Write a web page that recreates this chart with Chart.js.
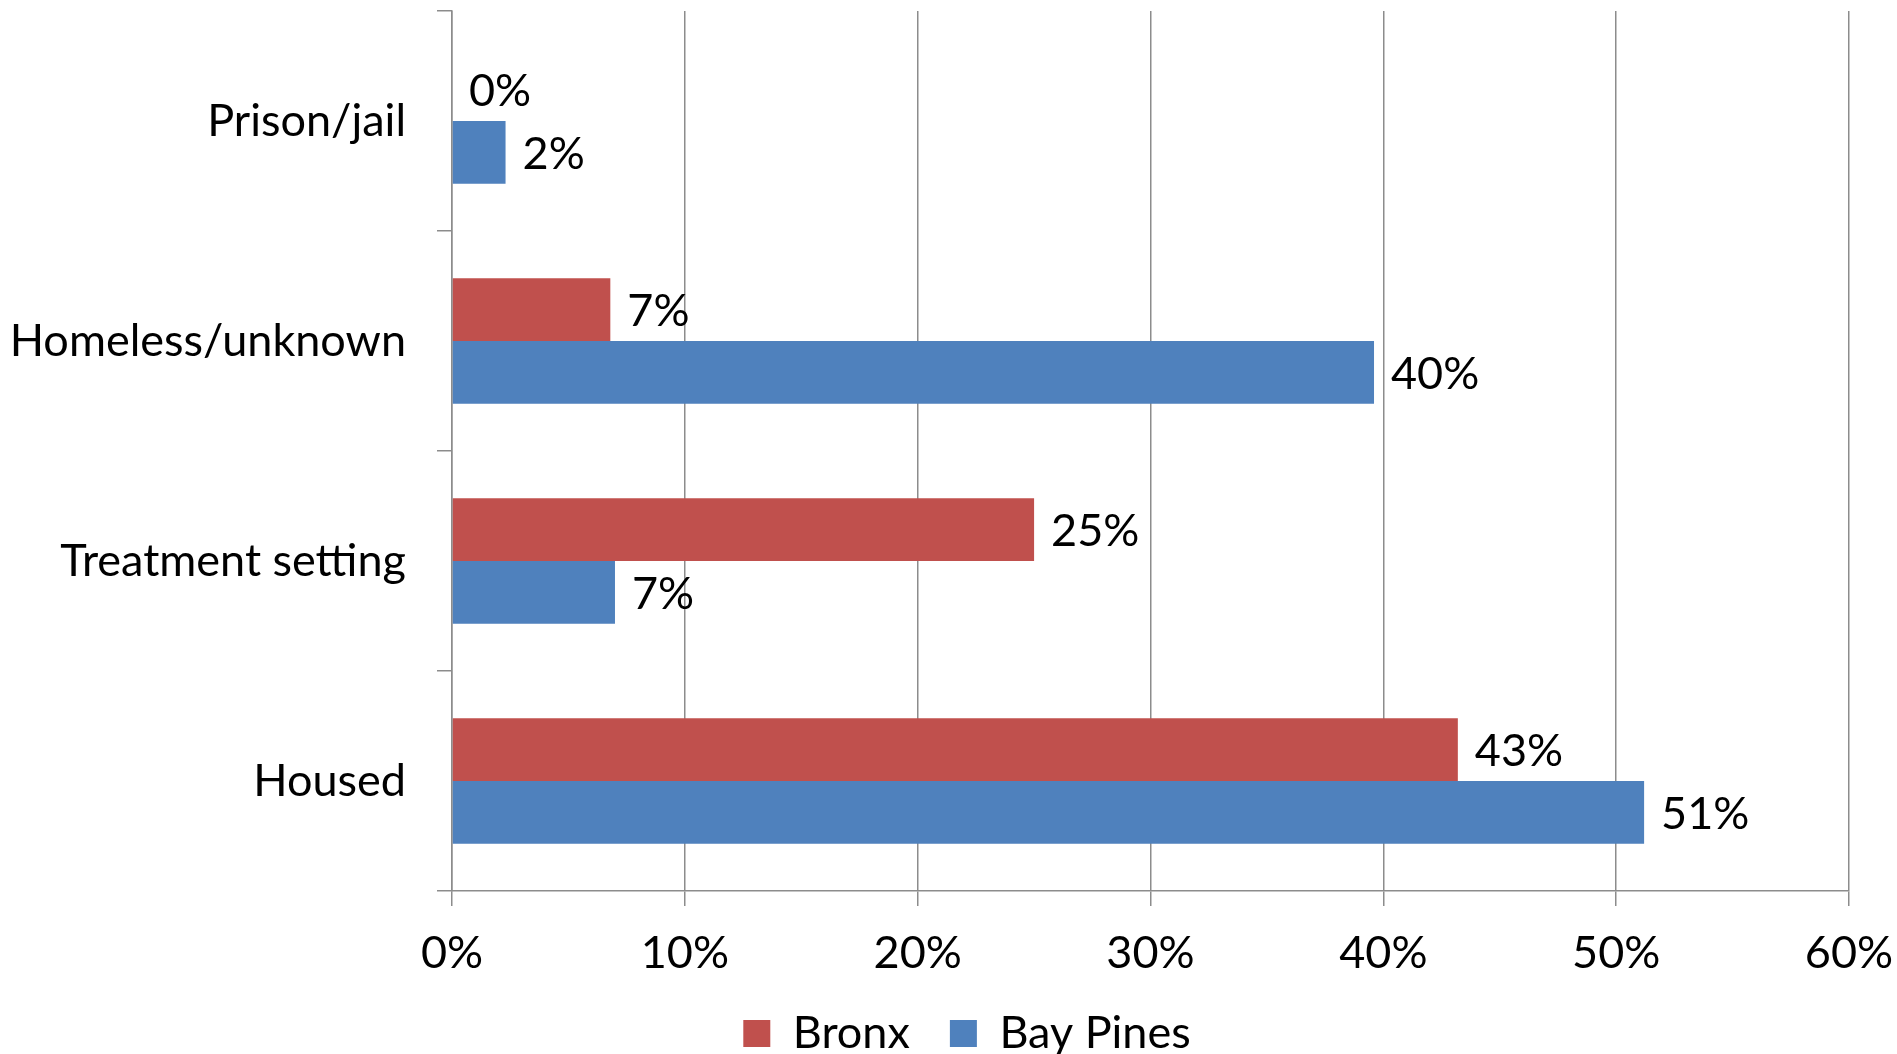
<!DOCTYPE html>
<html>
<head>
<meta charset="utf-8">
<script src="https://cdn.jsdelivr.net/npm/chart.js@4.4.1/dist/chart.umd.min.js"></script>
<style>
  html, body { margin: 0; padding: 0; background: #fff; }
  canvas { display: block; }
</style>
</head>
<body>
<canvas id="chart" width="1897" height="1054"></canvas>
<script>
const categories = ["Prison/jail", "Homeless/unknown", "Treatment setting", "Housed"];
const bronx = [0, 6.8, 25.0, 43.2];
const bayPines = [2.3, 39.6, 7.0, 51.2];
const xTicks = [0, 10, 20, 30, 40, 50, 60];

const FONT = "Lato, 'Open Sans', sans-serif";
const GRID = "#8c8c8c";

// value labels at the end of each bar
const barLabels = {
  id: "barLabels",
  afterDatasetsDraw(chart) {
    const ctx = chart.ctx;
    ctx.save();
    ctx.font = "45px " + FONT;
    ctx.fillStyle = "#000";
    ctx.textAlign = "left";
    ctx.textBaseline = "middle";
    chart.data.datasets.forEach((ds, i) => {
      const meta = chart.getDatasetMeta(i);
      meta.data.forEach((bar, j) => {
        ctx.fillText(Math.round(ds.data[j]) + "%", bar.x + 17, bar.y + 2);
      });
    });
    ctx.restore();
  }
};

new Chart(document.getElementById("chart"), {
  type: "bar",
  data: {
    labels: categories,
    datasets: [
      { label: "Bronx", data: bronx, backgroundColor: "#C0504D" },
      { label: "Bay Pines", data: bayPines, backgroundColor: "#4F81BD" }
    ]
  },
  options: {
    indexAxis: "y",
    responsive: false,
    animation: false,
    categoryPercentage: 0.57,
    barPercentage: 1.0,
    // negative right padding only shifts the centred legend to the right
    layout: { padding: { top: 11, right: -37, left: 0, bottom: -12 } },
    scales: {
      x: {
        min: 0,
        max: 60,
        afterBuildTicks(scale) { scale.ticks = xTicks.map(v => ({ value: v })); },
        afterFit(scale) {
          scale.height = 80;
          scale.paddingLeft = 0;
          scale.paddingRight = 48;
        },
        ticks: {
          callback: v => v + "%",
          color: "#000",
          font: { family: FONT, size: 45 },
          padding: 20,
          maxRotation: 0
        },
        grid: { color: GRID, lineWidth: 1.5, tickLength: 15 },
        border: { display: true, color: GRID, width: 1.5 }
      },
      y: {
        afterFit(scale) {
          scale.width = 452;
          scale.paddingTop = 0;
          scale.paddingBottom = 0;
        },
        ticks: {
          color: "#000",
          font: { family: FONT, size: 45 },
          padding: 31
        },
        grid: { offset: true, drawOnChartArea: false, color: GRID, lineWidth: 1.5, tickLength: 15 },
        border: { display: true, color: GRID, width: 1.5 }
      }
    },
    plugins: {
      legend: {
        position: "bottom",
        labels: {
          color: "#000",
          font: { family: FONT, size: 45 },
          boxWidth: 27,
          boxHeight: 27,
          padding: 40
        }
      },
      tooltip: { enabled: false }
    }
  },
  plugins: [barLabels]
});
</script>
</body>
</html>
